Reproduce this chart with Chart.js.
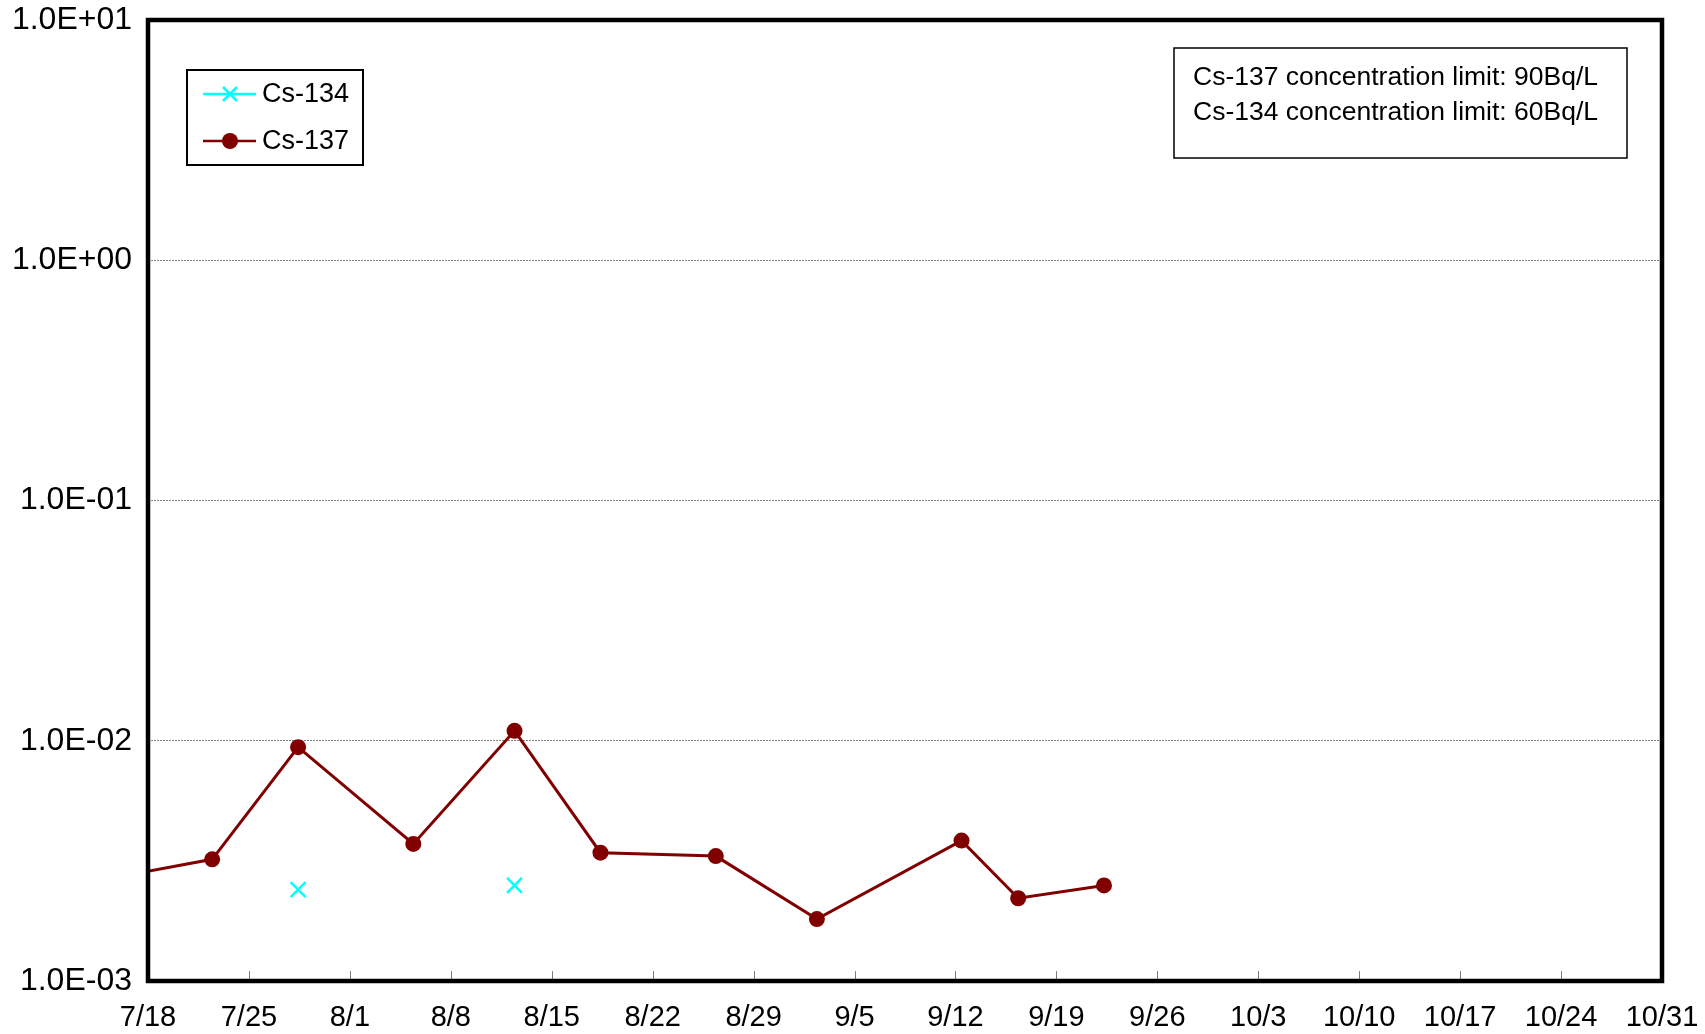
<!DOCTYPE html>
<html>
<head>
<meta charset="utf-8">
<script src="https://cdn.jsdelivr.net/npm/chart.js@4/dist/chart.umd.min.js"></script>
<style>
  html, body { margin: 0; padding: 0; background: #fff; }
  #wrap { width: 1705px; height: 1034px; }
</style>
</head>
<body>
<div id="wrap"><canvas id="c" width="1705" height="1034"></canvas></div>
<script>
// ---- data (x = days after 7/18) ----
const xTickLabels = ['7/18','7/25','8/1','8/8','8/15','8/22','8/29','9/5','9/12','9/19','9/26','10/3','10/10','10/17','10/24','10/31'];
const yTickValues = [0.001, 0.01, 0.1, 1, 10];
const cs137Days = [-2.6, 4.45, 10.41, 18.4, 25.42, 31.38, 39.38, 46.39, 56.42, 60.35, 66.3];
const cs137Vals = [0.00268, 0.00321, 0.0094, 0.00372, 0.0110, 0.00342, 0.00331, 0.00181, 0.00384, 0.00221, 0.00250];
const cs134Days = [10.41, 25.42];
const cs134Vals = [0.0024, 0.0025];
const seriesNames = ['Cs-134', 'Cs-137'];
const noteLines = ['Cs-137 concentration limit: 90Bq/L', 'Cs-134 concentration limit: 60Bq/L'];

const FONT = '"Liberation Sans", Arial, sans-serif';
const C137 = '#800000';
const C134 = '#00FFFF';

function fmtE(v) {
  const e = Math.round(Math.log10(v));
  const s = e < 0 ? '-' : '+';
  const a = Math.abs(e);
  return '1.0E' + s + (a < 10 ? '0' + a : '' + a);
}

const framePlugin = {
  id: 'frame',
  afterDatasetsDraw(chart) {
    const ctx = chart.ctx;
    const a = chart.chartArea;
    const xs = chart.scales.x;
    ctx.save();
    // inward tick marks on the bottom axis
    ctx.strokeStyle = '#808080';
    ctx.lineWidth = 1;
    xs.ticks.forEach(t => {
      const px = Math.round(xs.getPixelForValue(t.value)) + 0.5;
      ctx.beginPath();
      ctx.moveTo(px, a.bottom);
      ctx.lineTo(px, a.bottom - 10);
      ctx.stroke();
    });
    // heavy plot frame
    ctx.strokeStyle = '#000';
    ctx.lineWidth = 4.5;
    ctx.strokeRect(a.left, a.top, a.right - a.left, a.bottom - a.top);

    // legend box
    ctx.lineWidth = 2;
    ctx.fillStyle = '#fff';
    ctx.fillRect(187, 70, 176, 95);
    ctx.strokeRect(187, 70, 176, 95);
    ctx.font = '27px ' + FONT;
    ctx.textBaseline = 'middle';
    ctx.textAlign = 'left';
    const rows = [94, 141];
    // Cs-134 row
    ctx.strokeStyle = C134; ctx.lineWidth = 2.5;
    ctx.beginPath(); ctx.moveTo(203, rows[0]); ctx.lineTo(256, rows[0]); ctx.stroke();
    ctx.beginPath();
    ctx.moveTo(223, rows[0]-7); ctx.lineTo(237, rows[0]+7);
    ctx.moveTo(237, rows[0]-7); ctx.lineTo(223, rows[0]+7);
    ctx.stroke();
    // Cs-137 row
    ctx.strokeStyle = C137; ctx.lineWidth = 2.5;
    ctx.beginPath(); ctx.moveTo(203, rows[1]); ctx.lineTo(256, rows[1]); ctx.stroke();
    ctx.fillStyle = C137;
    ctx.beginPath(); ctx.arc(230, rows[1], 8, 0, Math.PI*2); ctx.fill();
    ctx.fillStyle = '#000';
    ctx.fillText(seriesNames[0], 262, rows[0] + 1);
    ctx.fillText(seriesNames[1], 262, rows[1] + 1);

    // note box
    ctx.strokeStyle = '#000';
    ctx.lineWidth = 1.5;
    ctx.fillStyle = '#fff';
    ctx.fillRect(1174, 48, 453, 110);
    ctx.strokeRect(1174, 48, 453, 110);
    ctx.fillStyle = '#000';
    ctx.font = '26.5px ' + FONT;
    ctx.fillText(noteLines[0], 1193, 78);
    ctx.fillText(noteLines[1], 1193, 113);
    ctx.restore();
  }
};

new Chart(document.getElementById('c'), {
  type: 'line',
  data: {
    datasets: [
      {
        label: seriesNames[0],
        data: cs134Days.map((d, i) => ({ x: d, y: cs134Vals[i] })),
        showLine: false,
        pointStyle: 'crossRot',
        pointRadius: 10.5,
        pointBorderWidth: 2.5,
        borderColor: C134,
        backgroundColor: C134
      },
      {
        label: seriesNames[1],
        data: cs137Days.map((d, i) => ({ x: d, y: cs137Vals[i] })),
        borderColor: C137,
        backgroundColor: C137,
        borderWidth: 3,
        pointRadius: 8,
        pointBorderWidth: 0,
        tension: 0
      }
    ]
  },
  options: {
    responsive: false,
    animation: false,
    devicePixelRatio: 1,
    layout: { padding: { left: 0, top: 20, right: 43, bottom: 0 } },
    plugins: { legend: { display: false }, tooltip: { enabled: false } },
    scales: {
      x: {
        type: 'linear',
        min: 0, max: 105,
        border: { display: false },
        grid: { display: false, drawTicks: false },
        ticks: {
          stepSize: 7,
          autoSkip: false,
          maxRotation: 0,
          padding: 20,
          color: '#000',
          font: { family: FONT, size: 29 },
          callback: v => xTickLabels[Math.round(v / 7)] ?? ''
        },
        afterFit: s => { s.height = 53; s.paddingLeft = 0; s.paddingRight = 0; }
      },
      y: {
        type: 'logarithmic',
        min: 0.001, max: 10,
        border: { display: false, dash: [2, 1] },
        grid: { color: '#808080', lineWidth: 1, drawTicks: false },
        ticks: {
          padding: 16,
          color: '#000',
          font: { family: FONT, size: 32 },
          callback: v => fmtE(v)
        },
        afterBuildTicks: s => { s.ticks = yTickValues.map(v => ({ value: v })); },
        afterFit: s => { s.width = 148; s.paddingTop = 0; s.paddingBottom = 0; }
      }
    }
  },
  plugins: [framePlugin]
});
</script>
</body>
</html>
